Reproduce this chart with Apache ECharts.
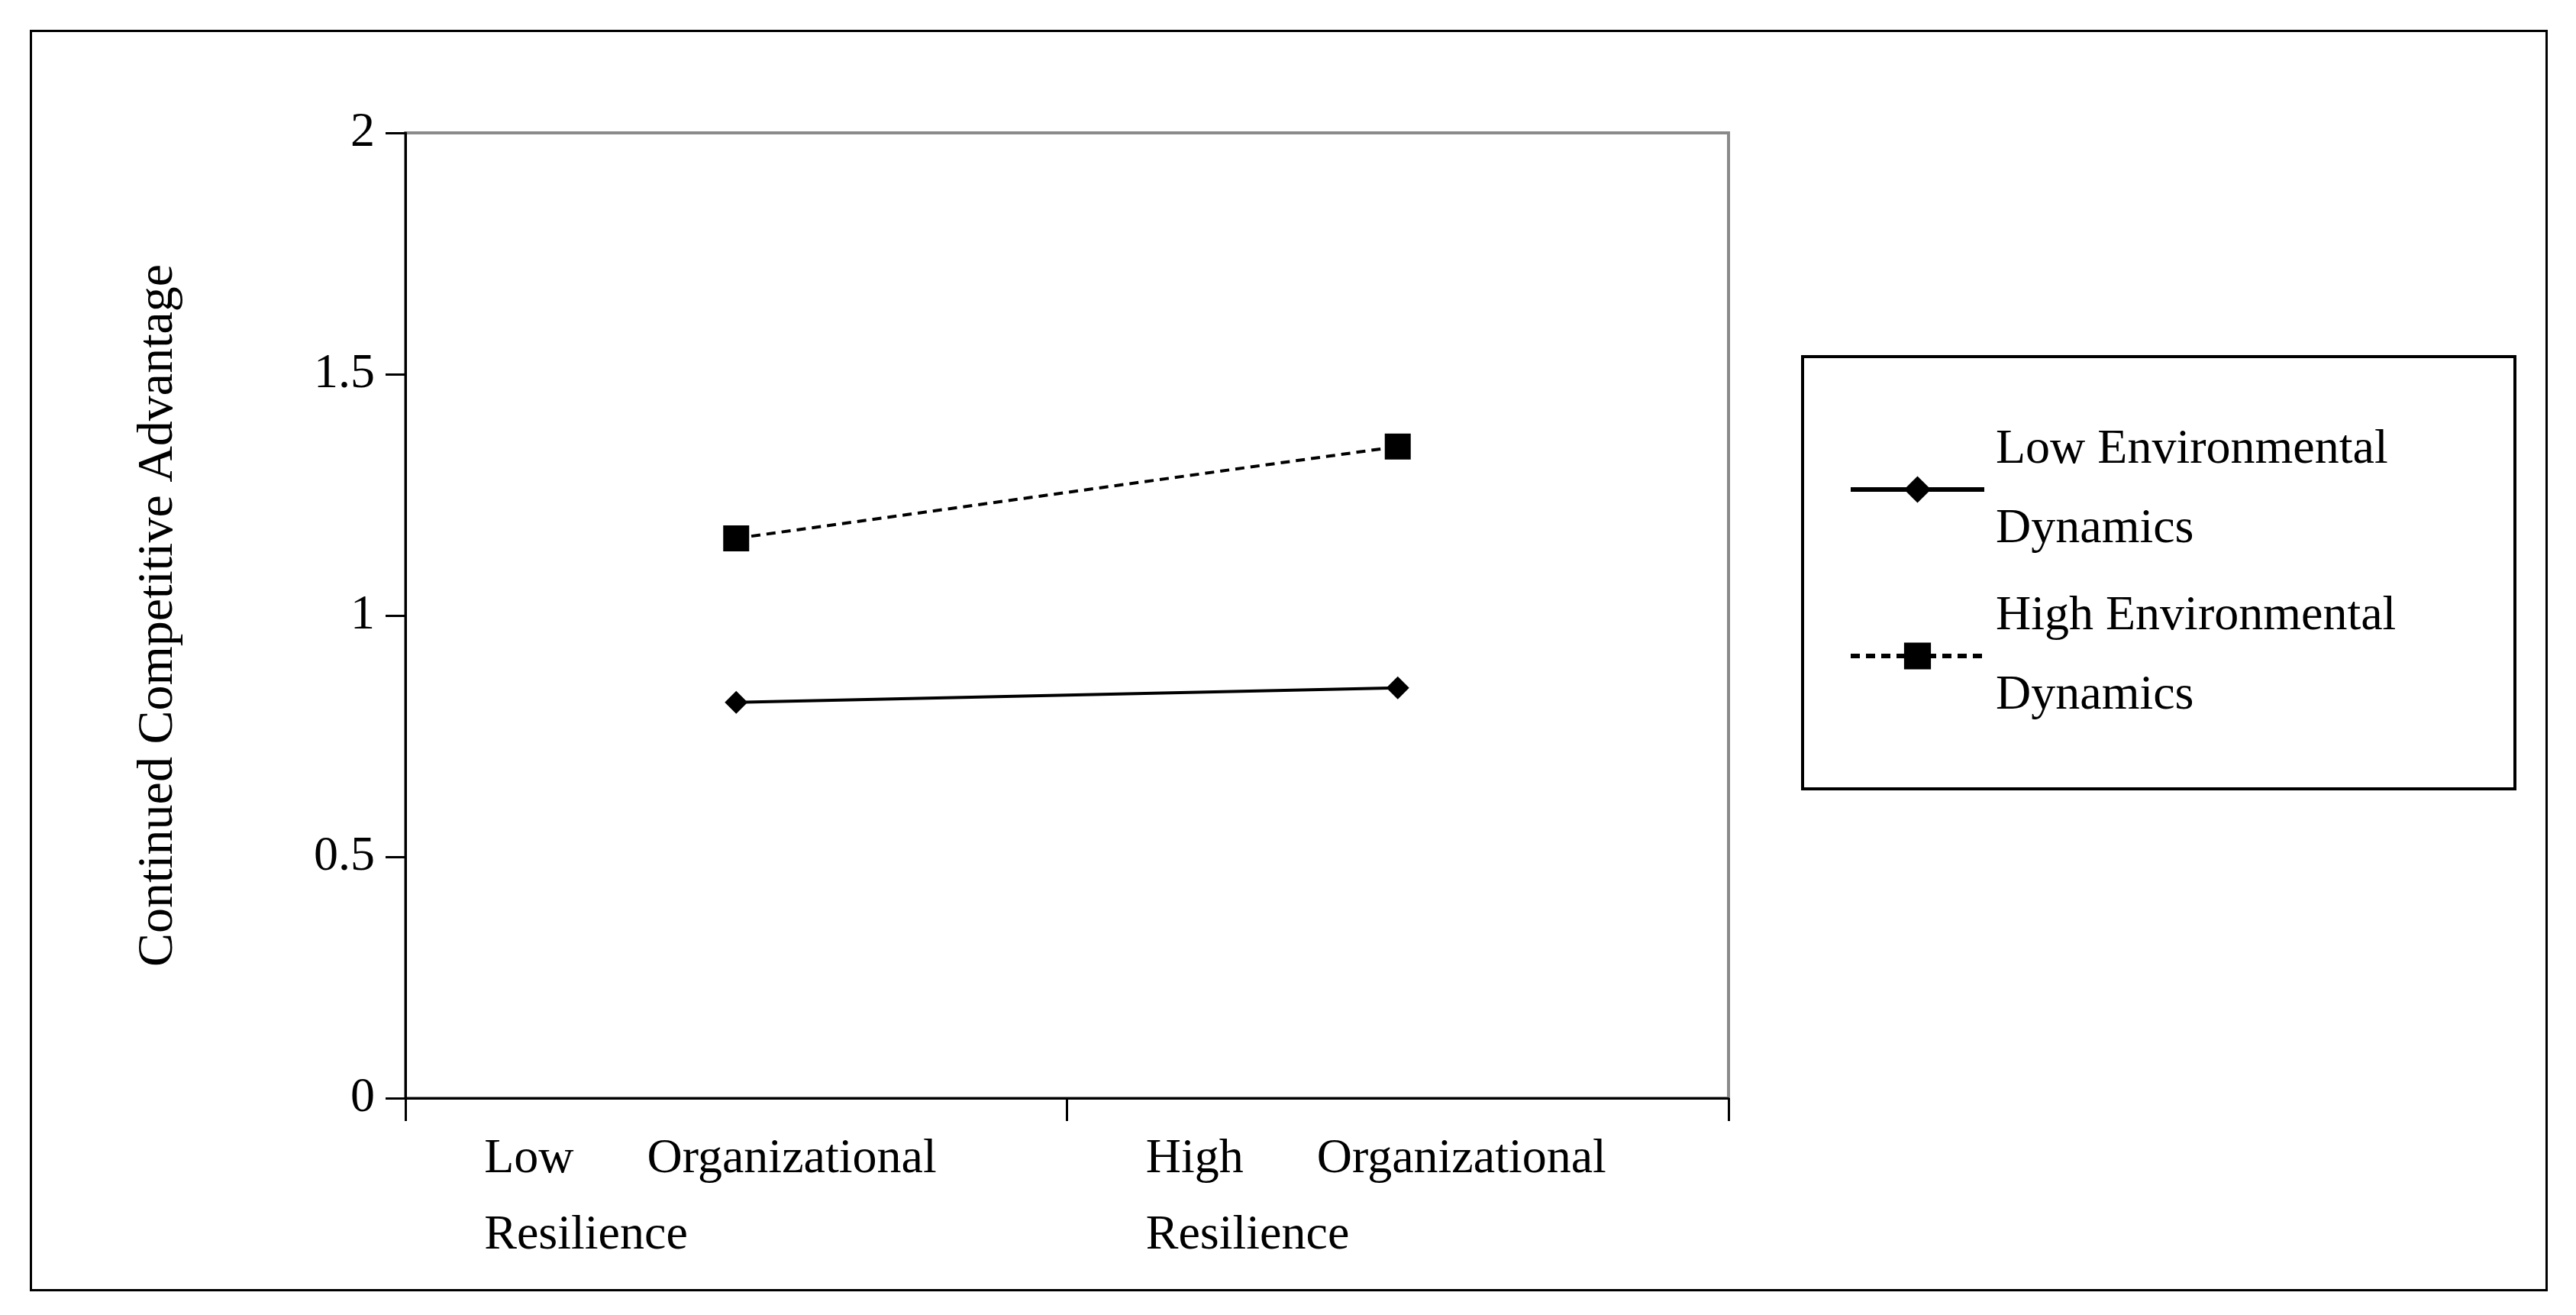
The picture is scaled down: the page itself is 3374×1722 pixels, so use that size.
<!DOCTYPE html>
<html>
<head>
<meta charset="utf-8">
<script src="https://cdn.jsdelivr.net/npm/echarts@6/dist/echarts.min.js"></script>
<style>
html,body{margin:0;padding:0;background:#fff;}
#chart{width:3374px;height:1722px;}
#frame{position:absolute;left:39px;top:39px;width:3292px;height:1646px;border:3px solid #000;pointer-events:none;}
</style>
</head>
<body>
<div id="chart"></div>
<div id="frame"></div>
<script>
var categories = ['Low Organizational Resilience', 'High Organizational Resilience'];
var lowEnv = [0.82, 0.85];
var highEnv = [1.16, 1.35];
var yTicks = [0, 0.5, 1, 1.5, 2];

var myChart = echarts.init(document.getElementById('chart'));
var font = 'Liberation Serif, Times New Roman, serif';

var option = {
    textStyle: { fontFamily: font },
    grid: {
        left: 531, right: 3374 - 2264, top: 174, bottom: 1722 - 1438,
        show: true, borderColor: '#8a8a8a', borderWidth: 4
    },
    xAxis: {
        type: 'category',
        data: categories,
        boundaryGap: true,
        axisLine: { lineStyle: { color: '#000', width: 3 } },
        axisTick: { show: true, length: 30, lineStyle: { color: '#000', width: 3 } },
        axisLabel: {
            margin: 30,
            formatter: function (v) {
                var w = v.split(' ');
                return '{a|' + w[0] + '      ' + w[1] + '}\n{a|' + w[2] + '}';
            },
            rich: { a: { width: 660, align: 'left', fontSize: 64, lineHeight: 100, color: '#000', fontFamily: font } }
        }
    },
    yAxis: {
        type: 'value',
        min: 0, max: 2, interval: 0.5,
        name: 'Continued Competitive Advantage',
        nameLocation: 'middle',
        nameGap: 290,
        nameTextStyle: { fontSize: 66, color: '#000', fontFamily: font },
        axisLine: { show: true, lineStyle: { color: '#000', width: 3 } },
        axisTick: { show: true, length: 26, lineStyle: { color: '#000', width: 3 } },
        splitLine: { show: false },
        axisLabel: {
            fontSize: 64, color: '#000', margin: 40, fontFamily: font,
            formatter: function (v) { return yTicks.indexOf(v) >= 0 ? String(v) : ''; }
        }
    },
    legend: {
        orient: 'vertical',
        left: 2361, top: 467,
        padding: [70, 40, 70, 60],
        borderColor: '#000', borderWidth: 4,
        itemWidth: 175, itemHeight: 44, itemGap: 10,
        lineStyle: { width: 6 },
        textStyle: { fontSize: 64, lineHeight: 104, width: 640, color: '#000', fontFamily: font, padding: [0, 0, 0, 10] },
        data: ['Low Environmental\nDynamics', 'High Environmental\nDynamics']
    },
    series: [{
        name: 'Low Environmental\nDynamics',
        type: 'line',
        data: lowEnv,
        symbol: 'diamond',
        symbolSize: 30,
        itemStyle: { color: '#000' },
        lineStyle: { color: '#000', width: 4 }
    }, {
        name: 'High Environmental\nDynamics',
        type: 'line',
        data: highEnv,
        symbol: 'rect',
        symbolSize: 34,
        itemStyle: { color: '#000' },
        lineStyle: { color: '#000', width: 4, type: [12, 8] }
    }]
};
myChart.setOption(option);
</script>
</body>
</html>
